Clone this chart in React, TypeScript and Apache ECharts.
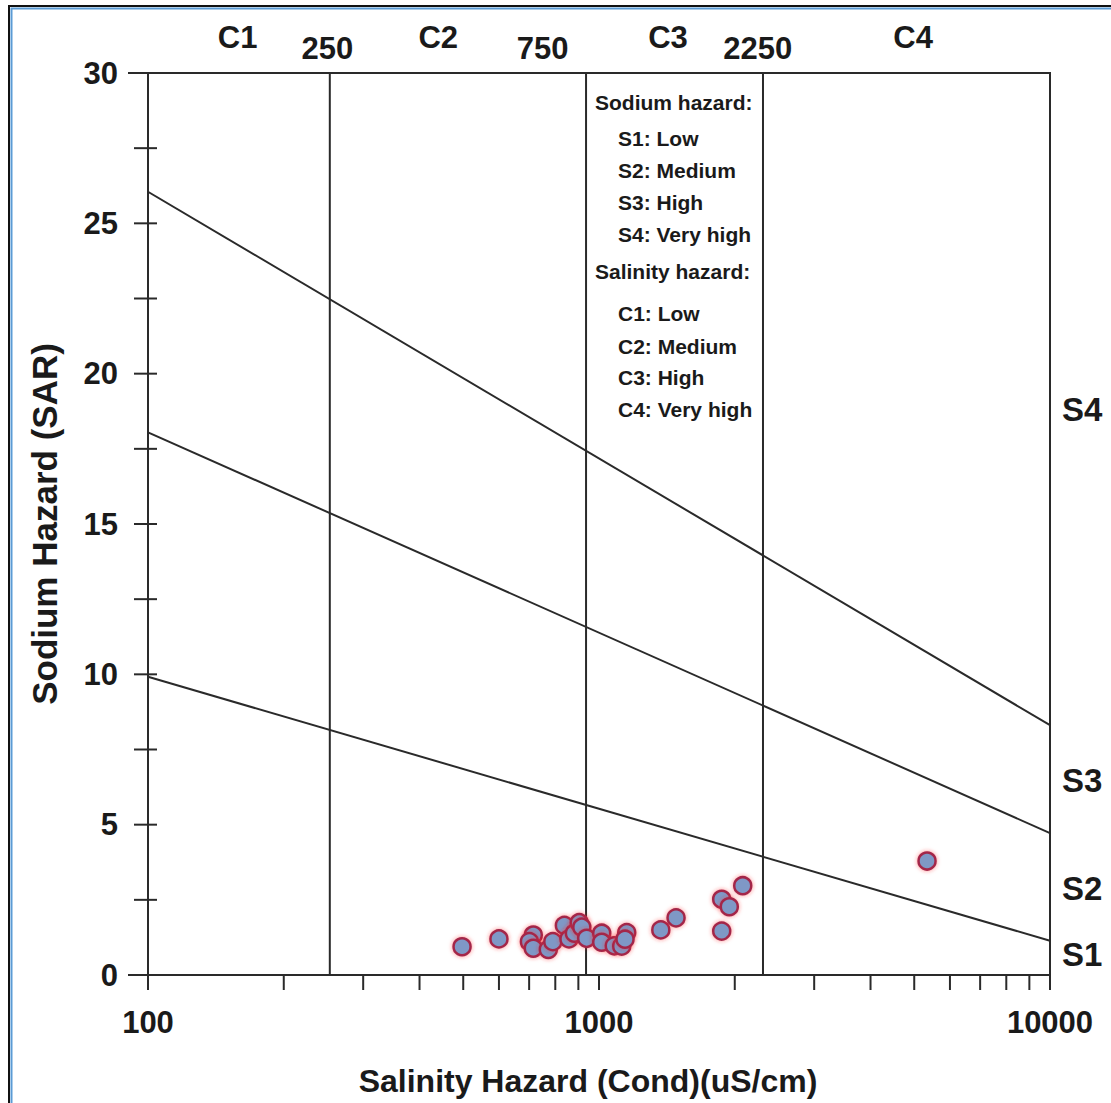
import React, { useEffect, useRef } from "react";
import * as echarts from "echarts";

// Sample data: conductivity (uS/cm) and SAR
const condValues = [497, 600, 715, 701, 715, 772, 790, 838, 858, 882, 904, 916, 939, 1014, 1014, 1081, 1123, 1152, 1142, 1371, 1482, 1871, 1945, 2083, 1871, 5338];
const sarValues = [0.94, 1.2, 1.33, 1.11, 0.89, 0.85, 1.11, 1.65, 1.2, 1.39, 1.74, 1.59, 1.22, 1.39, 1.09, 0.97, 0.96, 1.41, 1.19, 1.5, 1.9, 2.52, 2.27, 2.97, 1.46, 3.79];

// Salinity class boundary lines (as drawn) and top labels
const salinityLines = [253, 936, 2310];
const topLabelText = ["C1", "250", "C2", "750", "C3", "2250", "C4"];
const topLabelX = [158, 250, 440, 750, 1422, 2250, 4970];
const topLabelIsClass = [true, false, true, false, true, false, true];

// Sodium hazard boundaries: SAR at cond=100 and cond=10000
const boundaryEnds = [100, 10000];
const s1s2 = [9.92, 1.14];
const s2s3 = [18.05, 4.72];
const s3s4 = [26.05, 8.31];

// Right side class labels
const sLabelText = ["S1", "S2", "S3", "S4"];
const sLabelY = [0.67, 2.89, 6.48, 18.8];

// Tick values
const xMajorTicks = [100, 1000, 10000];
const xMinorTicks = [200, 300, 400, 500, 600, 700, 800, 900, 2000, 3000, 4000, 5000, 6000, 7000, 8000, 9000];
const yCrossTicks = [2.5, 5, 7.5, 10, 12.5, 15, 17.5, 20, 22.5, 25, 27.5];
const yEndTicks = [0, 30];

// Legend text
const legendLines = [
  { t: "Sodium hazard:", indent: false },
  { t: "S1: Low", indent: true },
  { t: "S2: Medium", indent: true },
  { t: "S3: High", indent: true },
  { t: "S4: Very high", indent: true },
  { t: "Salinity hazard:", indent: false },
  { t: "C1: Low", indent: true },
  { t: "C2: Medium", indent: true },
  { t: "C3: High", indent: true },
  { t: "C4: Very high", indent: true },
];
const legendY = [102, 138, 170, 202, 234, 271, 313, 346, 377, 409];

const FONT = "'Liberation Sans', Arial, Helvetica, sans-serif";
const LINE = "#2a2a2a";
const TXT = "#1a1a1a";

export default function App() {
  const ref = useRef<HTMLDivElement>(null);
  useEffect(() => {
    if (!ref.current) return;
    const chart = echarts.init(ref.current, null, { renderer: "svg" });

    const points = condValues.map((c, i) => [c, sarValues[i]]);
    const lineSeries = (data: number[][], name: string) => ({
      type: "line",
      name,
      data,
      symbol: "none",
      silent: true,
      lineStyle: { color: LINE, width: 2 },
      z: 3,
    });

    const series: any[] = [];
    salinityLines.forEach((v, i) =>
      series.push(lineSeries([[v, 0], [v, 30]], "cline" + i))
    );
    [s1s2, s2s3, s3s4].forEach((b, i) =>
      series.push(lineSeries([[boundaryEnds[0], b[0]], [boundaryEnds[1], b[1]]], "sline" + i))
    );

    // ticks
    series.push({
      type: "custom",
      name: "xticks",
      silent: true,
      clip: false,
      data: [...xMajorTicks, ...xMinorTicks].map((v) => [v, 0]),
      renderItem: (params: any, api: any) => {
        const p = api.coord([api.value(0), 0]);
        return {
          type: "line",
          shape: { x1: p[0], y1: p[1], x2: p[0], y2: p[1] + 15 },
          style: { stroke: LINE, lineWidth: 2 },
        };
      },
      z: 4,
    });
    series.push({
      type: "custom",
      name: "yticks",
      silent: true,
      clip: false,
      data: yCrossTicks.map((v) => [100, v]),
      renderItem: (params: any, api: any) => {
        const p = api.coord([100, api.value(1)]);
        return {
          type: "line",
          shape: { x1: p[0] - 14, y1: p[1], x2: p[0] + 9, y2: p[1] },
          style: { stroke: LINE, lineWidth: 2 },
        };
      },
      z: 4,
    });
    series.push({
      type: "custom",
      name: "yendticks",
      silent: true,
      clip: false,
      data: yEndTicks.map((v) => [100, v]),
      renderItem: (params: any, api: any) => {
        const p = api.coord([100, api.value(1)]);
        return {
          type: "line",
          shape: { x1: p[0] - 20, y1: p[1], x2: p[0], y2: p[1] },
          style: { stroke: LINE, lineWidth: 2 },
        };
      },
      z: 4,
    });

    // top labels
    series.push({
      type: "scatter",
      name: "toplabels",
      silent: true,
      clip: false,
      symbolSize: 0,
      itemStyle: { opacity: 1, color: TXT },
      data: topLabelX.map((x, i) => ({
        value: [x, 30, topLabelText[i]],
        label: { offset: [0, topLabelIsClass[i] ? -36 : -25] },
      })),
      label: {
        show: true,
        position: "inside",
        formatter: (p: any) => p.value[2],
        fontFamily: FONT,
        fontWeight: "bold",
        fontSize: 31,
        color: TXT,
        opacity: 1,
      },
      z: 5,
    });

    // right labels
    series.push({
      type: "scatter",
      name: "rightlabels",
      silent: true,
      clip: false,
      symbolSize: 0,
      itemStyle: { opacity: 1, color: TXT },
      data: sLabelY.map((y, i) => [10000, y, sLabelText[i]]),
      label: {
        show: true,
        position: "right",
        distance: 12,
        formatter: (p: any) => p.value[2],
        fontFamily: FONT,
        fontWeight: "bold",
        fontSize: 33,
        color: TXT,
        opacity: 1,
      },
      z: 5,
    });

    // samples
    series.push({
      type: "scatter",
      name: "samples",
      data: points,
      symbol: "circle",
      symbolSize: 17,
      itemStyle: {
        color: "#7f98c6",
        borderColor: "#a3284a",
        borderWidth: 2.5,
        shadowColor: "rgba(255,40,40,0.55)",
        shadowBlur: 4,
        opacity: 1,
      },
      z: 6,
    });

    const graphics: any[] = [
      {
        type: "rect",
        shape: { x: 9, y: 6, width: 1200, height: 1200 },
        style: { fill: "none", stroke: "#111", lineWidth: 2 },
        silent: true,
      },
      {
        type: "rect",
        shape: { x: 11.5, y: 8.5, width: 1200, height: 1200 },
        style: { fill: "none", stroke: "#5b9bd5", lineWidth: 2 },
        silent: true,
      },
    ];
    legendLines.forEach((l, i) => {
      graphics.push({
        type: "text",
        x: l.indent ? 618 : 595,
        y: legendY[i],
        silent: true,
        style: {
          text: l.t,
          font: `bold 21px ${FONT}`,
          fill: TXT,
          textAlign: "left",
          textVerticalAlign: "middle",
          verticalAlign: "middle",
        },
      });
    });

    chart.setOption({
      animation: false,
      backgroundColor: "#ffffff",
      grid: {
        left: 148,
        right: 61,
        top: 73,
        bottom: 128,
        show: true,
        borderColor: LINE,
        borderWidth: 2,
        backgroundColor: "transparent",
      },
      xAxis: {
        type: "log",
        logBase: 10,
        min: 100,
        max: 10000,
        name: "Salinity Hazard (Cond)(uS/cm)",
        nameLocation: "middle",
        nameGap: 90,
        nameTextStyle: {
          fontFamily: FONT,
          fontWeight: "bold",
          fontSize: 32,
          color: TXT,
          padding: [0, 22, 0, 0],
        },
        axisLine: { show: true, lineStyle: { color: LINE, width: 2 } },
        axisTick: { show: false },
        minorTick: { show: false },
        splitLine: { show: false },
        axisLabel: {
          fontFamily: FONT,
          fontWeight: "bold",
          fontSize: 31,
          color: TXT,
          margin: 32,
          formatter: (v: number) => String(Math.round(v)),
        },
      },
      yAxis: {
        type: "value",
        min: 0,
        max: 30,
        interval: 5,
        name: "Sodium Hazard (SAR)",
        nameLocation: "middle",
        nameGap: 86,
        nameTextStyle: { fontFamily: FONT, fontWeight: "bold", fontSize: 35, color: TXT },
        axisLine: { show: true, lineStyle: { color: LINE, width: 2 } },
        axisTick: { show: false },
        splitLine: { show: false },
        axisLabel: {
          fontFamily: FONT,
          fontWeight: "bold",
          fontSize: 31,
          color: TXT,
          margin: 30,
        },
      },
      series,
      graphic: graphics,
    });

    return () => chart.dispose();
  }, []);

  return (
    <div
      ref={ref}
      style={{ position: "absolute", left: 0, top: 0, width: 1111, height: 1103 }}
    />
  );
}
